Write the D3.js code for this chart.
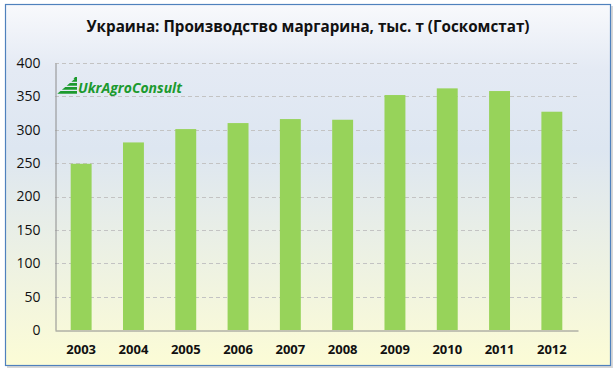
<!DOCTYPE html>
<html>
<head>
<meta charset="utf-8">
<script src="https://cdn.jsdelivr.net/npm/d3@7"></script>
<style>
  body { margin: 0; background: #fff; }
  svg { display: block; }
  text { font-family: "Open Sans", "Liberation Sans", sans-serif; }
</style>
</head>
<body>
<svg id="chart" width="615" height="372"></svg>
<script>
// data
const years = ["2003", "2004", "2005", "2006", "2007", "2008", "2009", "2010", "2011", "2012"];
const output = [249, 281, 301, 310, 316, 315, 352, 362, 358, 327];
const yTicks = [0, 50, 100, 150, 200, 250, 300, 350, 400];
const title = "Украина: Производство маргарина, тыс. т (Госкомстат)";

const svg = d3.select("#chart");
const defs = svg.append("defs");

// background gradient: pale blue at top, pale yellow at bottom
const grad = defs.append("linearGradient")
    .attr("id", "bg")
    .attr("x1", 0).attr("y1", 0).attr("x2", 0).attr("y2", 1);
grad.append("stop").attr("offset", "0%").attr("stop-color", "#f8f9fc");
grad.append("stop").attr("offset", "18%").attr("stop-color", "#e4eaf4");
grad.append("stop").attr("offset", "40%").attr("stop-color", "#dde6f1");
grad.append("stop").attr("offset", "100%").attr("stop-color", "#fcfcd6");

// soft shadow behind the frame
svg.append("rect")
    .attr("x", 7).attr("y", 6)
    .attr("width", 606).attr("height", 362)
    .attr("fill", "#d8d8d8");

// frame
svg.append("rect")
    .attr("x", 5.5).attr("y", 4.5)
    .attr("width", 605).attr("height", 361)
    .attr("fill", "url(#bg)")
    .attr("stroke", "#4f81bd")
    .attr("stroke-width", 1.2);

// title
svg.append("text")
    .attr("x", 308).attr("y", 32)
    .attr("text-anchor", "middle")
    .attr("font-size", 16)
    .attr("font-weight", "bold")
    .attr("fill", "#111")
    .attr("textLength", 443)
    .attr("lengthAdjust", "spacingAndGlyphs")
    .text(title);

// scales
const x = d3.scaleBand()
    .domain(years)
    .range([55, 578])
    .paddingInner(0.6)
    .paddingOuter(0.3);

const y = d3.scaleLinear()
    .domain([0, 400])
    .range([330, 63]);

// dashed gridlines
svg.append("g")
    .selectAll("line")
    .data(yTicks.filter(d => d > 0))
    .join("line")
    .attr("x1", 55).attr("x2", 578)
    .attr("y1", d => Math.round(y(d)) + 0.5)
    .attr("y2", d => Math.round(y(d)) + 0.5)
    .attr("stroke", "#c3c3c3")
    .attr("stroke-width", 1)
    .attr("stroke-dasharray", "4,3");

// y axis
const yAxis = svg.append("g")
    .attr("transform", "translate(55.5,0)")
    .call(d3.axisLeft(y).tickValues(yTicks).tickSize(0).tickPadding(15));
yAxis.select(".domain").attr("stroke", "#8c8c8c");
yAxis.selectAll("text")
    .attr("font-size", 14)
    .attr("fill", "#111")
    .style("font-family", "\"Open Sans\", \"Liberation Sans\", sans-serif");

// bars
svg.append("g")
    .selectAll("rect")
    .data(output)
    .join("rect")
    .attr("x", (d, i) => x(years[i]))
    .attr("width", x.bandwidth())
    .attr("y", d => y(d))
    .attr("height", d => y(0) - y(d))
    .attr("fill", "#97d35a");

// x axis
const xAxis = svg.append("g")
    .attr("transform", "translate(0,330.5)")
    .call(d3.axisBottom(x).tickSize(0).tickPadding(14));
xAxis.select(".domain").attr("stroke", "#8c8c8c");
xAxis.selectAll("text")
    .attr("font-size", 13)
    .attr("font-weight", "bold")
    .attr("fill", "#111")
    .style("font-family", "\"Open Sans\", \"Liberation Sans\", sans-serif");

// UkrAgroConsult logo: striped wedge + italic wordmark
const logo = svg.append("g").attr("transform", "translate(57,77)");
const stripes = [0, 1, 2, 3];
logo.selectAll("path")
    .data(stripes)
    .join("path")
    .attr("d", i => {
        const t = 2 + i * 4, b = t + 2.8;
        const lx = v => 20 - v * (20 / 17);
        return `M${lx(t)},${t}L20,${t}L20,${b}L${lx(b)},${b}Z`;
    })
    .attr("fill", "#1c9a2e");
logo.append("path")
    .attr("d", "M18,0L20,0L20,2L16.5,2Z")
    .attr("fill", "#1c9a2e");
logo.append("text")
    .attr("x", 21).attr("y", 16)
    .attr("font-size", 15)
    .attr("font-weight", "bold")
    .attr("font-style", "italic")
    .attr("fill", "#1c9a2e")
    .attr("textLength", 104)
    .attr("lengthAdjust", "spacingAndGlyphs")
    .text("UkrAgroConsult");
</script>
</body>
</html>
